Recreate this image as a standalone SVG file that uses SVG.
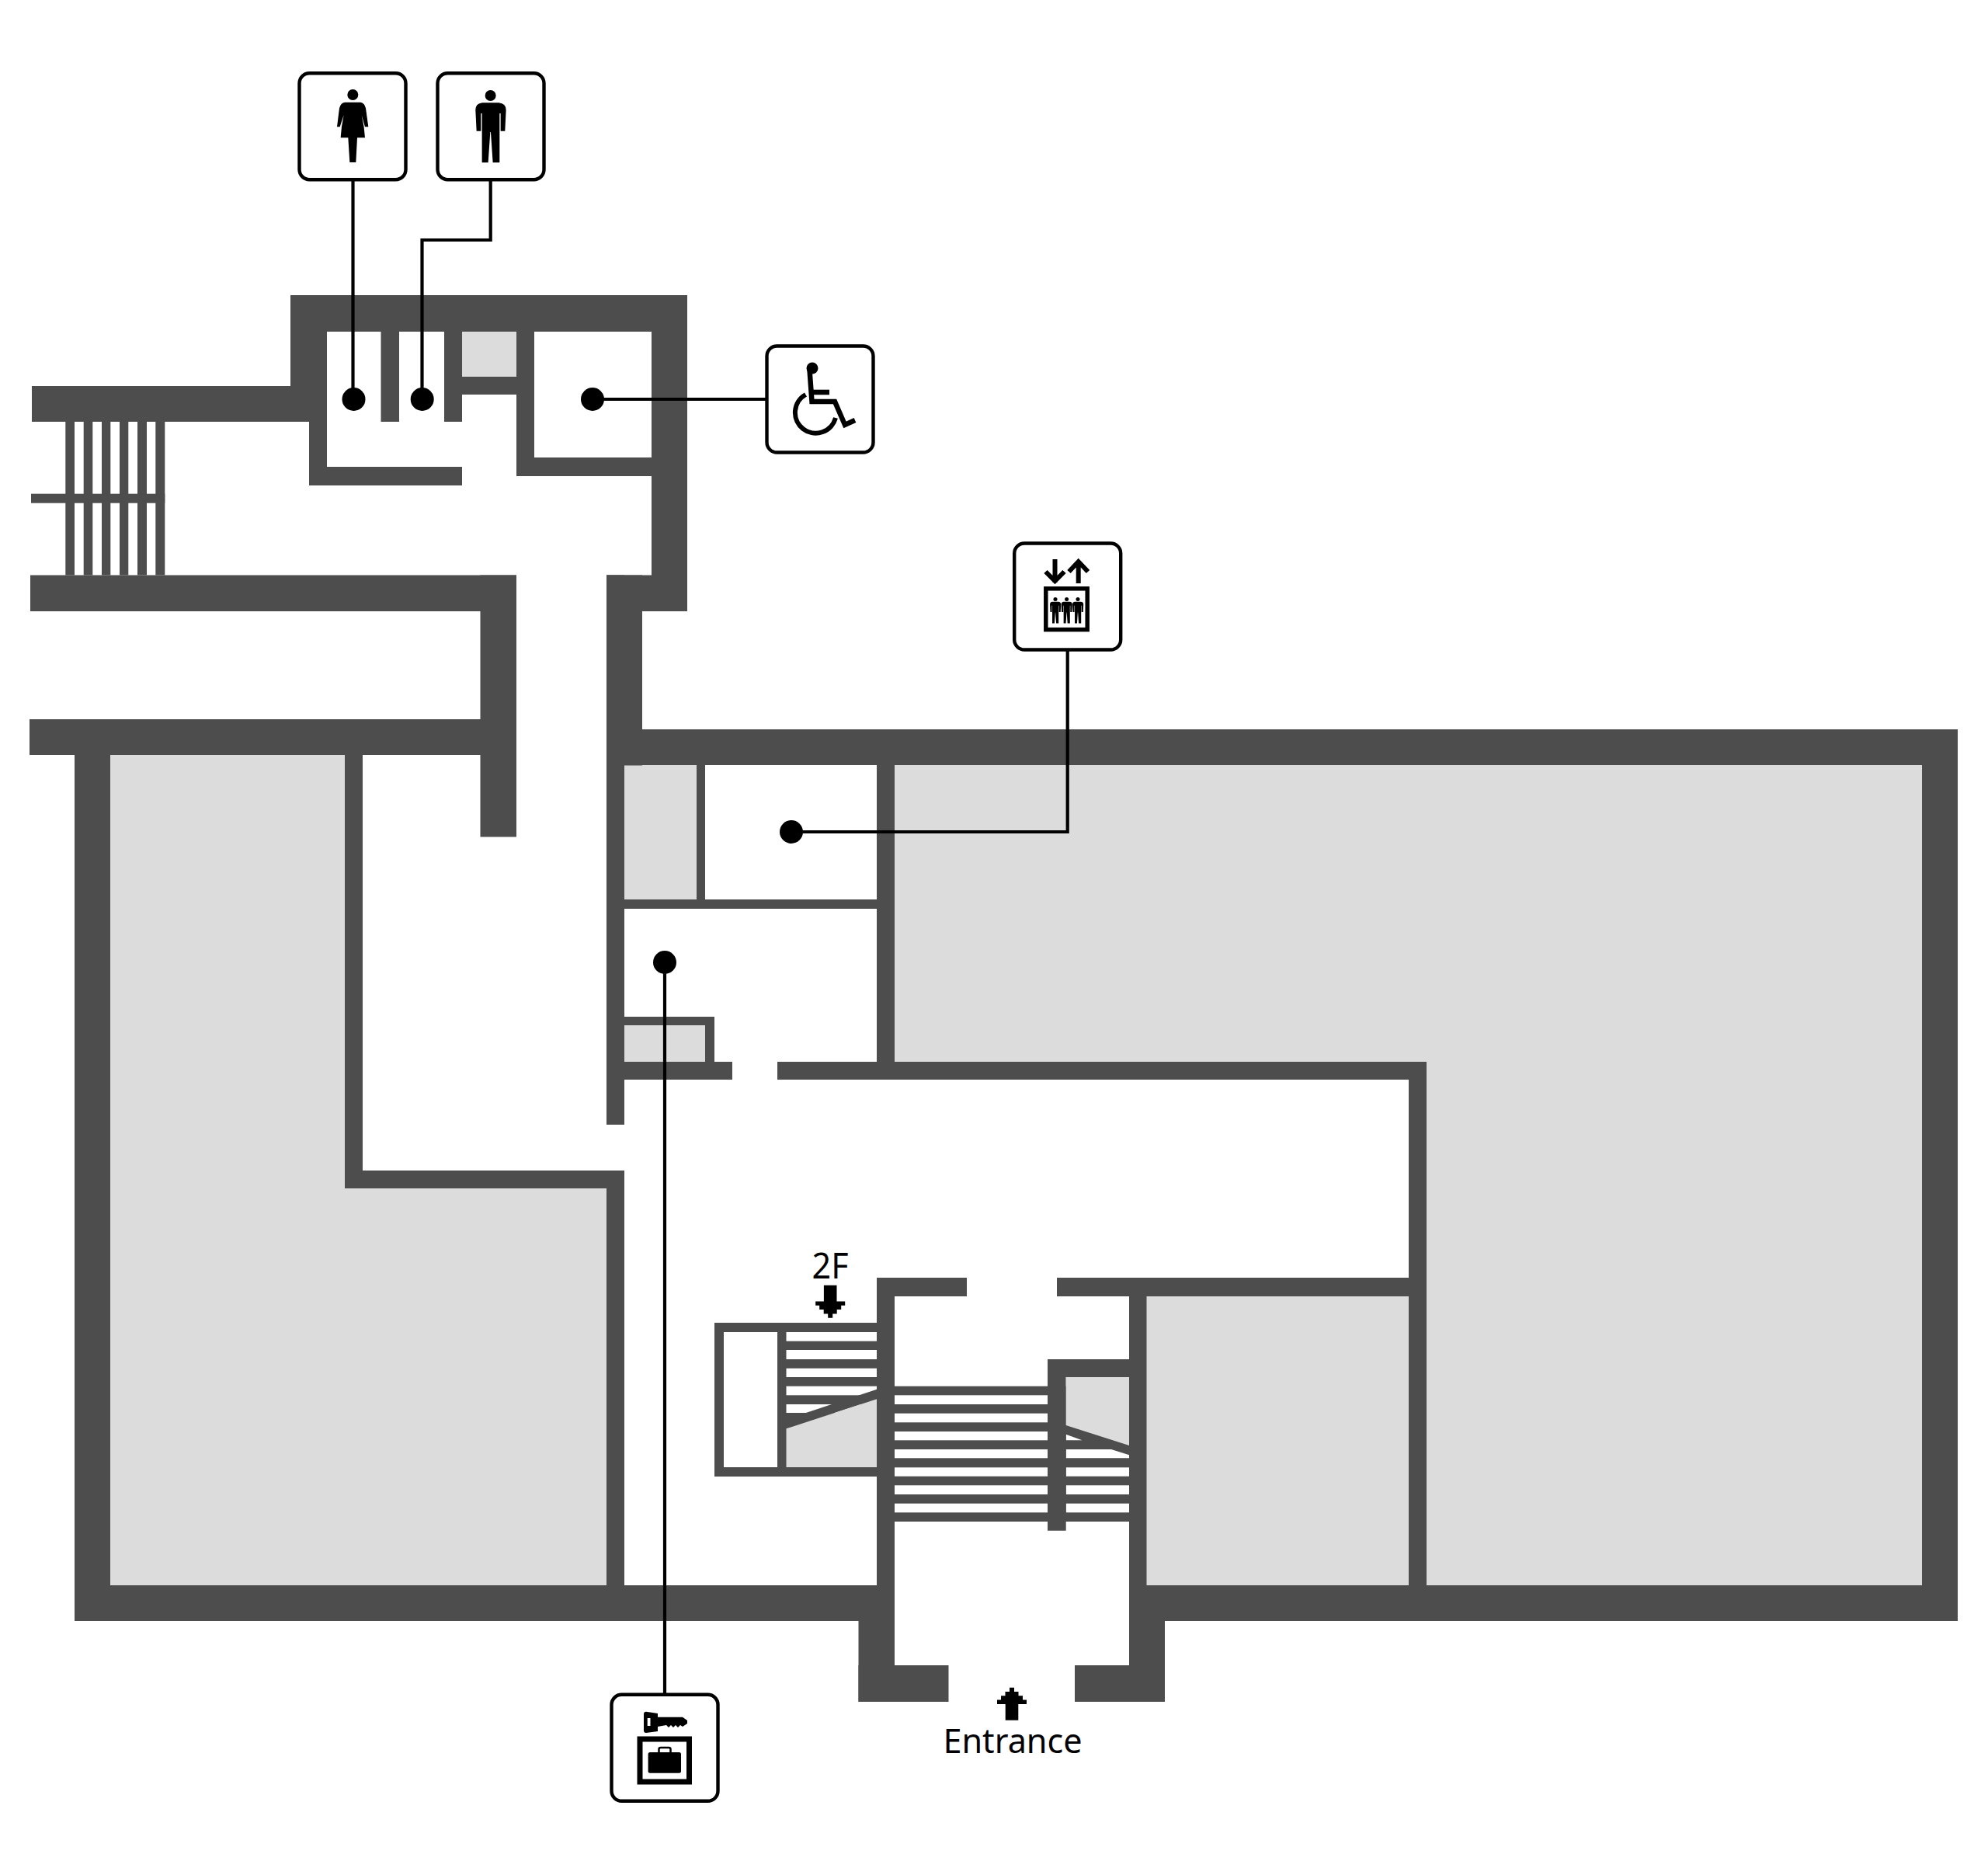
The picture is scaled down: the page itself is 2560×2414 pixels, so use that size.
<svg xmlns="http://www.w3.org/2000/svg" width="2560" height="2414" viewBox="0 0 2560 2414">
<style>
.w{fill:#4d4d4d}
.g{fill:#dcdcdc}
.s{fill:#fff}
.box{fill:#fff;stroke:#000;stroke-width:4.4}
.c{fill:none;stroke:#000;stroke-width:4.2}
.dot{fill:#000}
.k{fill:#000}
.ik{fill:none;stroke:#000}
text{font-family:"Noto Sans","Open Sans",sans-serif;fill:#000;text-anchor:middle}
</style>
<defs>
<path id="arrow" d="M-3,0H3V5.3H8.5V10.6H14V15.9H19V21.2H8.3V42H-8.3V21.2H-19V15.9H-14V10.6H-8.5V5.3H-3Z"/>
<g id="man"><circle cx="815" cy="129" r="21"/><path d="M783,157H847Q875,160 875,185L871,266H854V198H850V388H824L816,270H814L806,388H782V198H778V266H761L757,185Q757,160 783,157Z"/></g>
<rect id="b" x="-68.5" y="-68.5" width="137" height="137" rx="13" class="box"/>
</defs>
<rect width="2560" height="2414" fill="#fff"/>
<g id="plan">
<g id="rooms">
<rect class="g" x="595" y="427" width="70" height="60"/>
<path class="g" d="M142,972H445V1530H783V2041H142Z"/>
<rect class="g" x="804" y="985" width="94" height="174"/>
<path class="g" d="M1152,985H2476V2041H1837V1367H1152Z"/>
<rect class="g" x="804" y="1320" width="105" height="48"/>
<rect class="g" x="1476" y="1669" width="339" height="372"/>
</g>
<g id="walls">
<rect class="w" x="374" y="380" width="511" height="47"/>
<rect class="w" x="374" y="380" width="47" height="163"/>
<rect class="w" x="41" y="497" width="357" height="46"/>
<rect class="w" x="398" y="497" width="23" height="128"/>
<rect class="w" x="398" y="601" width="197" height="24"/>
<rect class="w" x="490.5" y="427" width="23.5" height="116"/>
<rect class="w" x="572" y="427" width="23" height="116"/>
<rect class="w" x="595" y="485" width="70" height="23"/>
<rect class="w" x="665" y="427" width="23" height="186"/>
<rect class="w" x="665" y="589" width="174" height="24"/>
<rect class="w" x="839" y="380" width="46" height="407"/>
<rect class="w" x="781" y="740.5" width="104" height="46.5"/>
<rect class="w" x="781" y="740.5" width="46" height="245"/>
<rect class="w" x="781" y="740.5" width="23" height="707.5"/>
<rect class="w" x="39" y="740.5" width="626" height="46.5"/>
<rect class="w" x="618.5" y="740.5" width="46.5" height="337"/>
<rect class="w" x="38" y="926" width="627" height="46"/>
<rect class="w" x="84.3" y="543" width="11.7" height="197.5"/>
<rect class="w" x="107.7" y="543" width="11.6" height="197.5"/>
<rect class="w" x="131" y="543" width="11.3" height="197.5"/>
<rect class="w" x="154" y="543" width="11.3" height="197.5"/>
<rect class="w" x="177" y="543" width="12" height="197.5"/>
<rect class="w" x="200.3" y="543" width="12" height="197.5"/>
<rect class="w" x="40" y="635.7" width="172.3" height="12"/>
<rect class="w" x="781" y="939" width="1740" height="46"/>
<rect class="w" x="2475" y="939" width="46" height="1148"/>
<rect class="w" x="96" y="972" width="46" height="1115"/>
<rect class="w" x="96" y="2041" width="1056" height="46"/>
<rect class="w" x="1454" y="2041" width="1067" height="46"/>
<rect class="w" x="444" y="972" width="23" height="558"/>
<rect class="w" x="444" y="1507" width="360" height="23"/>
<rect class="w" x="781" y="1507" width="23" height="580"/>
<rect class="w" x="897" y="985" width="11" height="185"/>
<rect class="w" x="804" y="1158" width="325" height="12"/>
<rect class="w" x="1129" y="985" width="23" height="382"/>
<rect class="w" x="804" y="1367" width="139" height="23"/>
<rect class="w" x="1001" y="1367" width="836" height="23"/>
<rect class="w" x="804" y="1309" width="116" height="11"/>
<rect class="w" x="908" y="1309" width="12" height="58"/>
<rect class="w" x="1814" y="1367" width="23" height="720"/>
<rect class="w" x="1129" y="1645" width="116" height="24"/>
<rect class="w" x="1361" y="1645" width="453" height="24"/>
<rect class="w" x="1129" y="1645" width="23" height="442"/>
<rect class="w" x="1105.5" y="2041" width="46.5" height="150"/>
<rect class="w" x="1105.5" y="2144" width="116" height="47"/>
<rect class="w" x="1454" y="1669" width="22.5" height="522"/>
<rect class="w" x="1454" y="2041" width="46" height="150"/>
<rect class="w" x="1384" y="2144" width="116" height="47"/>
</g>
<g id="stairs">
<rect class="w" x="920" y="1703" width="209" height="198"/>
<rect class="s" x="932" y="1715" width="69" height="174"/>
<g class="s">
<rect x="1012.5" y="1715" width="116.5" height="11.7"/>
<rect x="1012.5" y="1738" width="116.5" height="12"/>
<rect x="1012.5" y="1761.7" width="116.5" height="11.3"/>
<rect x="1012.5" y="1784.7" width="116.5" height="11.6"/>
<rect x="1012.5" y="1808" width="116.5" height="11"/>
</g>
<path class="w" d="M1012.5,1827.5L1129,1788.7V1801.3L1012.5,1839.3ZM1012.5,1819H1037L1012.5,1827.5Z"/>
<path class="g" d="M1012.5,1839.3L1129,1801.3V1889H1012.5Z"/>
<rect class="w" x="1152" y="1784.7" width="302" height="174.3"/>
<g class="s">
<rect x="1152" y="1796.3" width="197" height="11.7"/>
<rect x="1152" y="1819.7" width="197" height="11.6"/>
<rect x="1152" y="1843" width="197" height="11.3"/>
<rect x="1152" y="1866" width="197" height="11.3"/>
<rect x="1152" y="1889.3" width="197" height="11.4"/>
<rect x="1152" y="1912.3" width="197" height="11.7"/>
<rect x="1152" y="1935.7" width="197" height="11.6"/>
<rect x="1372.7" y="1889.3" width="81.3" height="11.4"/>
<rect x="1372.7" y="1912.3" width="81.3" height="11.7"/>
<rect x="1372.7" y="1935.7" width="81.3" height="11.6"/>
<path d="M1372.7,1846.7L1393.5,1854.3H1372.7Z"/>
<path d="M1372.7,1866H1431L1454,1873.3V1877.3H1372.7Z"/>
</g>
<rect class="w" x="1349" y="1750" width="23.7" height="220.7"/>
<rect class="w" x="1349" y="1750" width="105" height="23"/>
<path class="g" d="M1372.7,1773H1454V1861L1372.7,1835Z"/>
</g>
</g>
<g id="connectors">
<path class="c" d="M454.5,232V514"/>
<path class="c" d="M631.7,232V309H543.5V514"/>
<path class="c" d="M763,514H986"/>
<path class="c" d="M1374.7,838V1071H1019"/>
<path class="c" d="M856,1239V2180"/>
<circle class="dot" cx="455.5" cy="514" r="15"/>
<circle class="dot" cx="543.7" cy="514" r="15"/>
<circle class="dot" cx="763" cy="514" r="15"/>
<circle class="dot" cx="1019" cy="1071" r="15"/>
<circle class="dot" cx="856" cy="1239" r="15"/>
</g>
<g id="women-toilet">
<use href="#b" x="454" y="162.7"/>
<g class="k" transform="translate(360 80) scale(.3333)"><circle cx="283" cy="126" r="21"/><path d="M252,155H313Q328,157 333,178L343,250H330L317,205Q328,250 330,292H300L295,387H271L265,292H236Q238,250 248,205L233,250H222L231,178Q236,157 252,155Z"/></g>
</g>
<g id="men-toilet">
<use href="#b" x="632" y="162.7"/>
<use href="#man" class="k" transform="translate(360 80) scale(.3333)"/>
</g>
<g id="accessible-toilet">
<use href="#b" x="1056" y="514"/>
<circle class="k" cx="1046" cy="474" r="7.5"/>
<path class="ik" stroke-width="6.5" d="M1042.5,476L1045.5,517H1075L1088,547L1101,541"/>
<rect class="k" x="1047" y="501.7" width="21" height="6.6"/>
<path class="ik" stroke-width="6" d="M1037.5,508A26.5,26.5 0 1 0 1076,538"/>
</g>
<g id="elevator">
<use href="#b" x="1374.7" y="768"/>
<path class="ik" stroke-width="6" d="M1358.5,720V750M1346.5,736L1358.5,748L1370.5,736M1388.7,751V723M1376.5,736L1388.7,723L1401,736"/>
<rect class="ik" stroke-width="5.5" x="1346.8" y="757.8" width="53.4" height="52.8"/>
<use href="#man" class="k" transform="translate(1261.2 756) scale(.12)"/>
<use href="#man" class="k" transform="translate(1275.8 756) scale(.12)"/>
<use href="#man" class="k" transform="translate(1290.2 756) scale(.12)"/>
</g>
<g id="locker">
<use href="#b" x="856" y="2250.3"/>
<path class="k" d="M832,2203.7L847,2206V2210.7H879L885,2215V2219L879,2223L876,2221L873,2224L870,2221L867,2224L864,2221L861,2224L858,2221L847,2223V2229L832,2231Q829,2231 829,2228V2207Q829,2203.7 832,2203.7ZM833.7,2212V2222H837.5V2212Z" fill-rule="evenodd"/>
<rect class="ik" stroke-width="7" x="824" y="2239" width="63.5" height="55"/>
<rect class="k" x="834.6" y="2256" width="42.4" height="26.7" rx="2.5"/>
<path class="ik" stroke-width="2.5" d="M848.5,2257V2252Q848.5,2250 851,2250H861Q863.5,2250 863.5,2252V2257"/>
</g>
<g id="label-2f">
<text x="1069" y="1645.7" font-size="45" textLength="47" lengthAdjust="spacingAndGlyphs">2F</text>
<use href="#arrow" class="k" transform="translate(1069.2 1696.7) scale(1 -1)"/>
</g>
<g id="label-entrance">
<use href="#arrow" class="k" transform="translate(1303 2172.7)"/>
<text x="1304" y="2257" font-size="44" textLength="179" lengthAdjust="spacingAndGlyphs">Entrance</text>
</g>
</svg>
